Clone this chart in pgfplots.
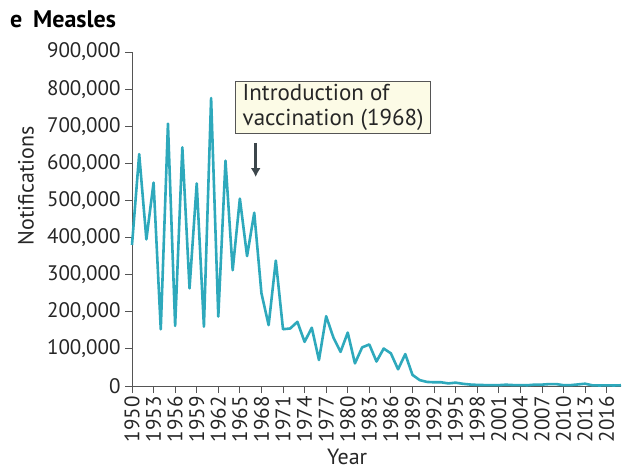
\documentclass[border=0pt]{standalone}
\usepackage{fontspec}
\setmainfont{PT Sans}
\usepackage{pgfplots}
\pgfplotsset{compat=1.18}
\usetikzlibrary{arrows.meta}
\definecolor{teal1}{HTML}{2EA9BC}
\definecolor{axgray}{HTML}{555555}
\definecolor{arrowc}{HTML}{3C464B}
\definecolor{boxfill}{HTML}{FCFBE6}
\begin{document}
\begin{tikzpicture}
\path[use as bounding box] (-132pt,-86pt) rectangle (491pt,386pt);
\node[anchor=west,font=\fontsize{24}{26}\selectfont\bfseries,inner sep=0pt] at (-122pt,367pt) {e\hspace{0.45em}Measles};
\begin{axis}[
  scale only axis,
  width=489pt, height=334pt,
  xmin=1950, xmax=2018,
  ymin=0, ymax=900000,
  axis lines=left,
  axis line style={axgray, line width=0.8pt, -},
  tick style={axgray, line width=0.8pt},
  tick align=outside,
  major tick length=7pt,
  xtick={1950,1953,...,2016},
  ytick={0,100000,...,900000},
  scaled y ticks=false,
  /pgf/number format/assume math mode=true,
  yticklabel style={font=\fontsize{21}{23}\selectfont, text=black!85, /pgf/number format/1000 sep={,}, /pgf/number format/fixed, xshift=-1pt},
  xticklabel style={font=\fontsize{21}{23}\selectfont, text=black!85, rotate=90, anchor=east, /pgf/number format/1000 sep={}},
  ylabel={Notifications},
  xlabel={Year},
  ylabel style={font=\fontsize{22}{24}\selectfont, text=black!85, at={(axis description cs:-0.217,0.599)}, anchor=center, rotate=0},
  xlabel style={font=\fontsize{22}{24}\selectfont, text=black!85, at={(axis description cs:0.44,-0.236)}, anchor=base, inner sep=0pt},
  clip=false,
]
\addplot[teal1, line width=2.6pt, line join=round] table {
1950 380000
1951 625000
1952 395000
1953 548000
1954 153000
1955 707000
1956 162000
1957 643000
1958 263000
1959 546000
1960 160000
1961 776000
1962 187000
1963 607000
1964 312000
1965 505000
1966 350000
1967 467000
1968 250000
1969 164000
1970 338000
1971 153000
1972 155000
1973 173000
1974 119000
1975 157000
1976 70000
1977 188000
1978 131000
1979 92000
1980 144000
1981 61000
1982 104000
1983 112000
1984 66000
1985 101000
1986 88000
1987 45000
1988 86000
1989 30000
1990 16000
1991 11000
1992 10000
1993 10000
1994 7000
1995 9000
1996 6000
1997 4000
1998 3000
1999 2500
2000 2300
2001 2300
2002 3500
2003 2500
2004 2400
2005 2100
2006 3700
2007 3700
2008 5100
2009 5200
2010 2200
2011 2400
2012 4200
2013 6200
2014 1900
2015 1400
2016 1900
2017 1400
2018 2000
};
\node[draw=axgray, fill=boxfill, line width=0.8pt, align=left, inner xsep=7pt, inner ysep=2.5pt,
      font=\fontsize{23}{25}\selectfont, text=black!85] at (axis cs:1977.97,750500)
  {Introduction of\\vaccination (1968)};
\draw[arrowc, line width=2.6pt, -{Latex[length=9pt,width=10pt]}] (axis cs:1967.2,655000) -- (axis cs:1967.2,563000);
\end{axis}
\end{tikzpicture}
\end{document}
